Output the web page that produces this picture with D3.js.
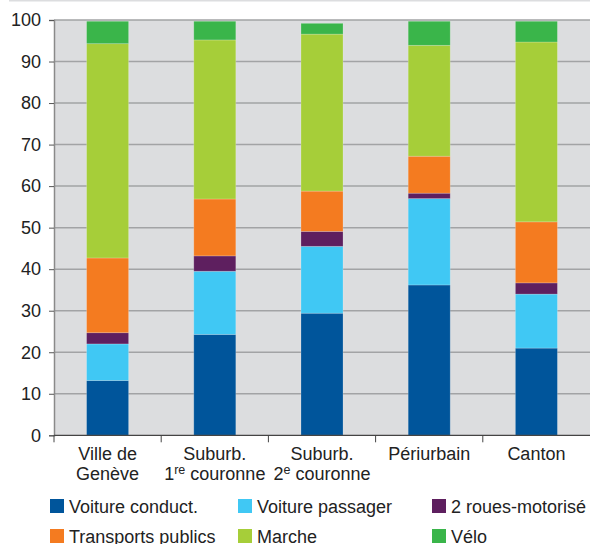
<!DOCTYPE html>
<html>
<head>
<meta charset="utf-8">
<script src="https://cdn.jsdelivr.net/npm/d3@7"></script>
<style>
  body { margin: 0; background: #fff; }
  svg text { font-family: "Liberation Sans", Arial, sans-serif; fill: #222; }
</style>
</head>
<body>
<div id="chart"></div>
<script>
// categories (x axis)
const categories = ["Ville de Genève", "Suburb. 1re couronne", "Suburb. 2e couronne", "Périurbain", "Canton"];
// series names, bottom to top
const seriesNames = ["Voiture conduct.", "Voiture passager", "2 roues-motorisé", "Transports publics", "Marche", "Vélo"];
const seriesColors = ["#00559b", "#40c8f4", "#5e1f5f", "#f47b20", "#a6ce39", "#3ab54a"];
// values (%) per series, in category order
const voitureConduct = [13.2, 24.3, 29.4, 36.2, 21.0];
const voiturePassager = [8.8, 15.2, 16.1, 20.8, 13.0];
const deuxRoues = [2.7, 3.7, 3.6, 1.3, 2.7];
const transportsPublics = [18.0, 13.7, 9.7, 8.9, 14.7];
const marche = [51.6, 38.3, 37.8, 26.7, 43.3];
const velo = [5.4, 4.5, 2.6, 5.8, 5.0];
const yTicks = [0, 10, 20, 30, 40, 50, 60, 70, 80, 90, 100];

const width = 590, height = 544;
const margin = { top: 20, right: 0, bottom: 109, left: 54 };
const fontSize = 18;

const svg = d3.select("#chart").append("svg")
    .attr("width", width)
    .attr("height", height);

// build table for stack
const allSeries = [voitureConduct, voiturePassager, deuxRoues, transportsPublics, marche, velo];
const table = categories.map((c, i) => {
    const row = { cat: c };
    seriesNames.forEach((s, j) => row[s] = allSeries[j][i]);
    return row;
});
const stacked = d3.stack().keys(seriesNames)(table);

const x = d3.scaleBand()
    .domain(categories)
    .range([margin.left, width - margin.right])
    .paddingInner(0.608)
    .paddingOuter(0.304);

const y = d3.scaleLinear()
    .domain([0, 100])
    .range([height - margin.bottom + 0.3, margin.top]);

// top thin rule
svg.append("line")
    .attr("x1", 9).attr("x2", width)
    .attr("y1", 0.5).attr("y2", 0.5)
    .attr("stroke", "#dcdddf").attr("stroke-width", 2);

// plot background
svg.append("rect")
    .attr("x", margin.left)
    .attr("y", y(100))
    .attr("width", width - margin.left)
    .attr("height", y(0) - y(100))
    .attr("fill", "#dcdddf");

// gridlines
svg.append("g")
    .selectAll("line")
    .data(yTicks.filter(d => d > 0))
    .enter().append("line")
    .attr("x1", margin.left).attr("x2", width)
    .attr("y1", d => y(d)).attr("y2", d => y(d))
    .attr("stroke", "#a2a3a5")
    .attr("stroke-width", 1.5);

// bars
svg.append("g")
    .selectAll("g")
    .data(stacked)
    .enter().append("g")
    .attr("fill", (d, i) => seriesColors[i])
    .selectAll("rect")
    .data(d => d)
    .enter().append("rect")
    .attr("x", d => x(d.data.cat))
    .attr("y", d => y(d[1]))
    .attr("width", x.bandwidth())
    .attr("height", d => y(d[0]) - y(d[1]))
    .attr("stroke", "rgba(255,255,255,0.25)")
    .attr("stroke-width", 0.8);

// y axis
const yAxis = svg.append("g")
    .attr("transform", `translate(${margin.left},0)`)
    .call(d3.axisLeft(y).tickValues(yTicks).tickSize(5).tickPadding(8));
yAxis.select(".domain").attr("stroke", "#8a8a8a").attr("stroke-width", 1.5);
yAxis.selectAll(".tick line").attr("stroke", "#555");
yAxis.selectAll("text").attr("font-size", fontSize).attr("font-family", "Liberation Sans, Arial, sans-serif").attr("fill", "#222");

// x axis line and ticks at category boundaries
svg.append("line")
    .attr("x1", margin.left).attr("x2", width)
    .attr("y1", y(0)).attr("y2", y(0))
    .attr("stroke", "#444").attr("stroke-width", 1.2);

const step = x.step();
const boundaries = d3.range(categories.length + 1).map(i => margin.left + i * step);
svg.append("g")
    .selectAll("line")
    .data(boundaries.slice(0, categories.length))
    .enter().append("line")
    .attr("x1", d => d).attr("x2", d => d)
    .attr("y1", y(0)).attr("y2", y(0) + 7)
    .attr("stroke", "#444").attr("stroke-width", 1);

// x labels (two lines, with superscripts)
const xLabels = [
    [["Ville de"], ["Genève"]],
    [["Suburb."], ["1", "re", " couronne"]],
    [["Suburb."], ["2", "e", " couronne"]],
    [["Périurbain"], []],
    [["Canton"], []]
];
const xg = svg.append("g");
categories.forEach((c, i) => {
    const cx = x(c) + x.bandwidth() / 2;
    const t = xg.append("text")
        .attr("x", cx)
        .attr("text-anchor", "middle")
        .attr("font-size", fontSize);
    xLabels[i].forEach((line, li) => {
        if (!line.length) return;
        const yPos = 459.5 + li * 20.5;
        if (line.length === 1) {
            t.append("tspan").attr("x", cx).attr("y", yPos).text(line[0]);
        } else {
            t.append("tspan").attr("x", cx).attr("y", yPos).text(line[0]);
            t.append("tspan").attr("dy", -6).attr("font-size", 12.5).text(line[1]);
            t.append("tspan").attr("dy", 6).text(line[2]);
        }
    });
});

// legend: 3 columns x 2 rows
const legendCols = [50, 238, 432];
const legendRows = [499, 529];
const legend = svg.append("g");
seriesNames.forEach((s, i) => {
    const col = i % 3, row = Math.floor(i / 3);
    const g = legend.append("g")
        .attr("transform", `translate(${legendCols[col]},${legendRows[row]})`);
    g.append("rect")
        .attr("width", 14).attr("height", 14)
        .attr("fill", seriesColors[i]);
    g.append("text")
        .attr("x", 19)
        .attr("y", 14)
        .attr("font-size", fontSize)
        .text(s);
});
</script>
</body>
</html>
